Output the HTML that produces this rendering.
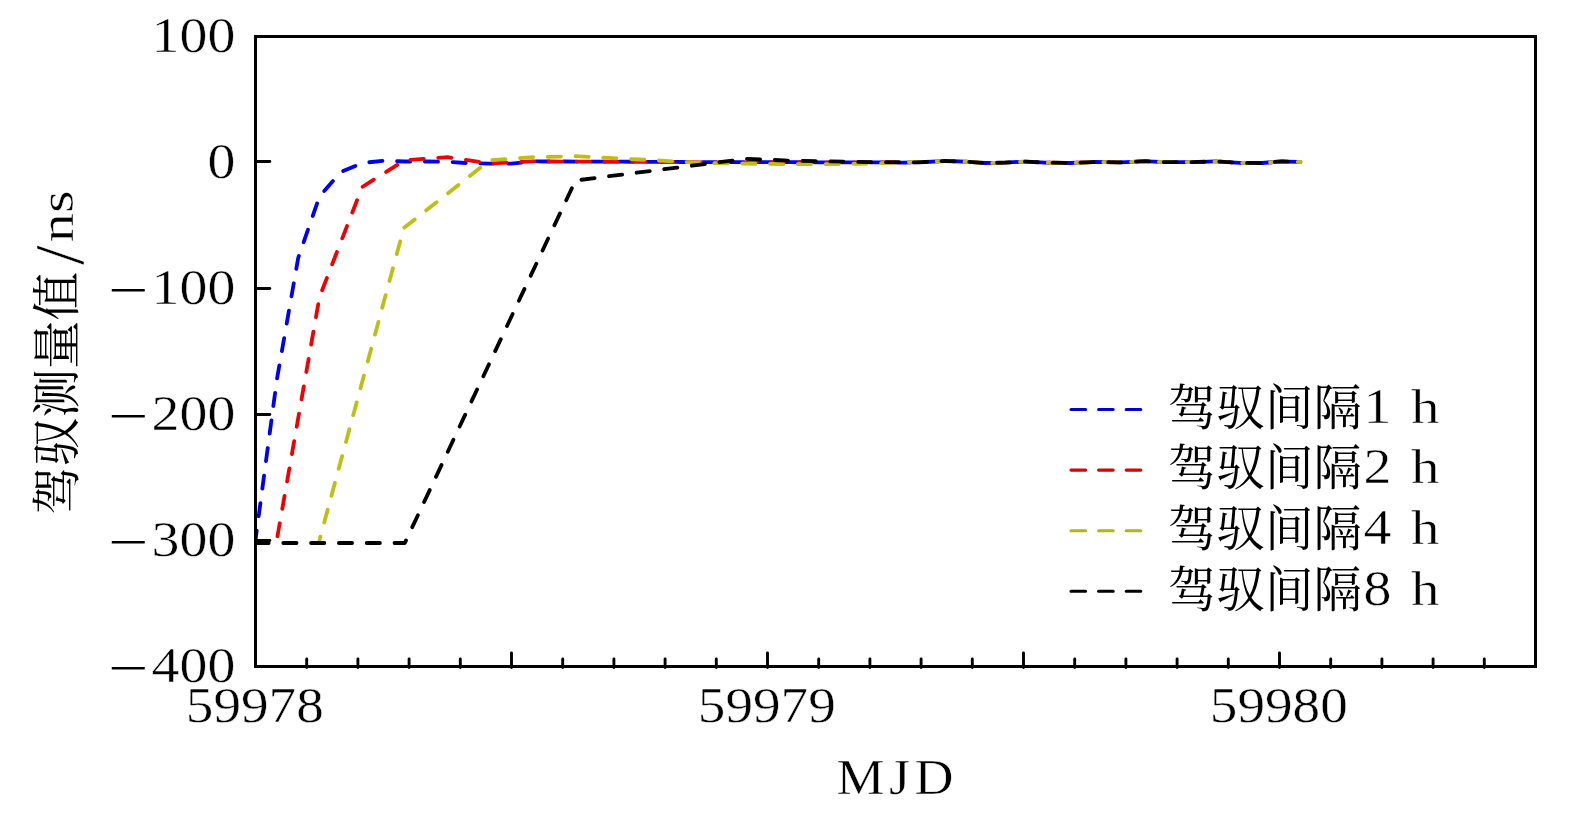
<!DOCTYPE html>
<html lang="zh"><head><meta charset="utf-8"><title>驾驭测量值</title>
<style>
html,body{margin:0;padding:0;background:#fff;}
body{width:1575px;height:817px;overflow:hidden;}
svg{display:block;}
text{font-family:"Liberation Serif","Noto Serif CJK SC",serif;fill:#000;}
.lat{stroke:#fff;stroke-width:0.45px;stroke-linejoin:round;}
.cjk{font-family:"Noto Serif CJK SC","Liberation Serif",serif;font-weight:400;}
.tk{stroke:#000;stroke-width:2.9;stroke-linecap:round;fill:none;}
.ln{fill:none;stroke-width:3.8;stroke-linecap:round;stroke-linejoin:round;stroke-dasharray:13.2 14.6;}
.lg{fill:none;stroke-width:3.1;stroke-linecap:round;stroke-dasharray:14.6 13;}
</style></head><body>
<svg width="1575" height="817" viewBox="0 0 1575 817">
<rect x="0" y="0" width="1575" height="817" fill="#fff"/>
<defs><clipPath id="ax"><rect x="255.5" y="36.5" width="1280.0" height="630.0"/></clipPath></defs>
<g clip-path="url(#ax)">
<path class="ln" stroke="#0000f0" stroke-dashoffset="3.8" d="M255.5 540.0 L276.8 380.0 L298.2 258.0 L319.5 196.5 L340.8 172.0 L362.2 163.0 L383.5 160.8 L404.8 161.5 L426.2 161.5 L447.5 161.7 L468.8 163.2 L490.2 163.6 L511.5 163.6 L532.8 161.4 L554.2 161.5 L596.8 161.6 L639.5 161.8 L682.2 162.0 L724.8 162.2 L760.0 162.2 L790.0 162.2 L830.0 162.4 L870.0 162.3 L905.0 162.6 L925.0 162.0 L945.0 161.0 L965.0 161.6 L985.0 163.0 L1005.0 162.6 L1025.0 161.6 L1045.0 162.6 L1070.0 163.0 L1095.0 162.0 L1120.0 162.4 L1145.0 161.2 L1165.0 162.2 L1190.0 162.2 L1215.0 161.4 L1240.0 162.8 L1262.0 163.0 L1282.0 161.4 L1300.5 162.0"/>
<path class="ln" stroke="#f00000" stroke-dashoffset="-3.8" d="M276.8 540.0 L319.5 297.0 L362.2 187.0 L404.8 160.2 L447.5 157.2 L490.2 163.4 L532.8 161.4 L575.5 161.6 L618.2 161.8 L660.8 162.0 L703.5 162.3 L746.2 162.3 L760.0 162.3 L790.0 162.2 L830.0 162.4 L870.0 162.3 L905.0 162.6 L925.0 162.0 L945.0 161.0 L965.0 161.6 L985.0 163.0 L1005.0 162.6 L1025.0 161.6 L1045.0 162.6 L1070.0 163.0 L1095.0 162.0 L1120.0 162.4 L1145.0 161.2 L1165.0 162.2 L1190.0 162.2 L1215.0 161.4 L1240.0 162.8 L1262.0 163.0 L1282.0 161.4 L1300.5 162.0"/>
<path class="ln" stroke="#bebe14" stroke-dashoffset="9.7" d="M319.5 540.0 L403.8 228.0 L489.6 160.4 L530.0 157.3 L575.5 156.2 L660.8 160.6 L700.0 163.0 L746.2 163.6 L788.8 164.2 L831.5 164.2 L874.2 163.4 L916.8 161.9 L925.0 162.0 L945.0 161.0 L965.0 161.6 L985.0 163.0 L1005.0 162.6 L1025.0 161.6 L1045.0 162.6 L1070.0 163.0 L1095.0 162.0 L1120.0 162.4 L1145.0 161.2 L1165.0 162.2 L1190.0 162.2 L1215.0 161.4 L1240.0 162.8 L1262.0 163.0 L1282.0 161.4 L1300.5 162.0"/>
<path class="ln" stroke="#000000" stroke-dashoffset="0.0" d="M255.5 543.0 L404.8 543.0 L575.5 180.5 L746.2 158.8 L788.8 160.6 L831.5 161.4 L874.2 162.1 L916.8 162.3 L925.0 162.0 L945.0 161.0 L965.0 161.6 L985.0 163.0 L1005.0 162.6 L1025.0 161.6 L1045.0 162.6 L1070.0 163.0 L1095.0 162.0 L1120.0 162.4 L1145.0 161.2 L1165.0 162.2 L1190.0 162.2 L1215.0 161.4 L1240.0 162.8 L1262.0 163.0 L1282.0 161.4 L1300.5 162.0"/>
</g>
<rect x="255.5" y="36.5" width="1280.0" height="630.0" fill="none" stroke="#000" stroke-width="3"/>
<line class="tk" x1="306.7" y1="659.0" x2="306.7" y2="667.5"/>
<line class="tk" x1="357.9" y1="659.0" x2="357.9" y2="667.5"/>
<line class="tk" x1="409.1" y1="659.0" x2="409.1" y2="667.5"/>
<line class="tk" x1="460.3" y1="659.0" x2="460.3" y2="667.5"/>
<line class="tk" x1="511.5" y1="653.0" x2="511.5" y2="667.5"/>
<line class="tk" x1="562.7" y1="659.0" x2="562.7" y2="667.5"/>
<line class="tk" x1="613.9" y1="659.0" x2="613.9" y2="667.5"/>
<line class="tk" x1="665.1" y1="659.0" x2="665.1" y2="667.5"/>
<line class="tk" x1="716.3" y1="659.0" x2="716.3" y2="667.5"/>
<line class="tk" x1="767.5" y1="653.0" x2="767.5" y2="667.5"/>
<line class="tk" x1="818.7" y1="659.0" x2="818.7" y2="667.5"/>
<line class="tk" x1="869.9" y1="659.0" x2="869.9" y2="667.5"/>
<line class="tk" x1="921.1" y1="659.0" x2="921.1" y2="667.5"/>
<line class="tk" x1="972.3" y1="659.0" x2="972.3" y2="667.5"/>
<line class="tk" x1="1023.5" y1="653.0" x2="1023.5" y2="667.5"/>
<line class="tk" x1="1074.7" y1="659.0" x2="1074.7" y2="667.5"/>
<line class="tk" x1="1125.9" y1="659.0" x2="1125.9" y2="667.5"/>
<line class="tk" x1="1177.1" y1="659.0" x2="1177.1" y2="667.5"/>
<line class="tk" x1="1228.3" y1="659.0" x2="1228.3" y2="667.5"/>
<line class="tk" x1="1279.5" y1="653.0" x2="1279.5" y2="667.5"/>
<line class="tk" x1="1330.7" y1="659.0" x2="1330.7" y2="667.5"/>
<line class="tk" x1="1381.9" y1="659.0" x2="1381.9" y2="667.5"/>
<line class="tk" x1="1433.1" y1="659.0" x2="1433.1" y2="667.5"/>
<line class="tk" x1="1484.3" y1="659.0" x2="1484.3" y2="667.5"/>
<line class="tk" x1="255.5" y1="161.5" x2="269.8" y2="161.5"/>
<line class="tk" x1="255.5" y1="288.5" x2="269.8" y2="288.5"/>
<line class="tk" x1="255.5" y1="414.5" x2="269.8" y2="414.5"/>
<line class="tk" x1="255.5" y1="540.5" x2="269.8" y2="540.5"/>
<text class="lat" x="151.6" y="52.0" font-size="51.0" textLength="83.7" lengthAdjust="spacingAndGlyphs">100</text>
<text class="lat" x="207.4" y="177.7" font-size="51.0" textLength="27.9" lengthAdjust="spacingAndGlyphs">0</text>
<text x="108.6" y="306.6" font-size="51.0" textLength="40" lengthAdjust="spacingAndGlyphs">−</text>
<text class="lat" x="151.6" y="304.0" font-size="51.0" textLength="83.7" lengthAdjust="spacingAndGlyphs">100</text>
<text x="108.6" y="432.6" font-size="51.0" textLength="40" lengthAdjust="spacingAndGlyphs">−</text>
<text class="lat" x="151.6" y="430.0" font-size="51.0" textLength="83.7" lengthAdjust="spacingAndGlyphs">200</text>
<text x="108.6" y="558.6" font-size="51.0" textLength="40" lengthAdjust="spacingAndGlyphs">−</text>
<text class="lat" x="151.6" y="556.0" font-size="51.0" textLength="83.7" lengthAdjust="spacingAndGlyphs">300</text>
<text x="108.6" y="684.6" font-size="51.0" textLength="40" lengthAdjust="spacingAndGlyphs">−</text>
<text class="lat" x="151.6" y="682.0" font-size="51.0" textLength="83.7" lengthAdjust="spacingAndGlyphs">400</text>
<text class="lat" x="185.8" y="721.6" font-size="51.0" textLength="138.0" lengthAdjust="spacingAndGlyphs">59978</text>
<text class="lat" x="697.8" y="721.6" font-size="51.0" textLength="138.0" lengthAdjust="spacingAndGlyphs">59979</text>
<text class="lat" x="1209.8" y="721.6" font-size="51.0" textLength="138.0" lengthAdjust="spacingAndGlyphs">59980</text>
<g transform="scale(1.08 1)"><text class="lat" x="774.54 823.24 846.76" y="794.3" font-size="50">MJD</text></g>
<g transform="translate(72.9 514.5) rotate(-90)">
<text class="cjk" x="0" y="1.3" font-size="48.5" textLength="242.5" lengthAdjust="spacing">驾驭测量值</text>
<text class="lat" x="249.5" y="10" font-size="69" textLength="19.6" lengthAdjust="spacingAndGlyphs">/</text>
<text class="lat" x="272.3" y="0" font-size="48" textLength="51.8" lengthAdjust="spacingAndGlyphs">ns</text>
</g>
<path class="lg" stroke="#0000cc" d="M1071.0 409.5 L1142.0 409.5"/>
<text class="cjk" x="1168" y="424.7" font-size="48.5" textLength="194" lengthAdjust="spacing">驾驭间隔</text>
<text class="lat" x="1363.5" y="422.7" font-size="51.0" textLength="27.9" lengthAdjust="spacingAndGlyphs">1</text>
<text class="lat" x="1411" y="422.7" font-size="49" textLength="28.5" lengthAdjust="spacingAndGlyphs">h</text>
<path class="lg" stroke="#dc0000" d="M1071.0 470.1 L1142.0 470.1"/>
<text class="cjk" x="1168" y="485.3" font-size="48.5" textLength="194" lengthAdjust="spacing">驾驭间隔</text>
<text class="lat" x="1363.5" y="483.3" font-size="51.0" textLength="27.9" lengthAdjust="spacingAndGlyphs">2</text>
<text class="lat" x="1411" y="483.3" font-size="49" textLength="28.5" lengthAdjust="spacingAndGlyphs">h</text>
<path class="lg" stroke="#b4b414" d="M1071.0 530.7 L1142.0 530.7"/>
<text class="cjk" x="1168" y="545.9" font-size="48.5" textLength="194" lengthAdjust="spacing">驾驭间隔</text>
<text class="lat" x="1363.5" y="543.9" font-size="51.0" textLength="27.9" lengthAdjust="spacingAndGlyphs">4</text>
<text class="lat" x="1411" y="543.9" font-size="49" textLength="28.5" lengthAdjust="spacingAndGlyphs">h</text>
<path class="lg" stroke="#000000" d="M1071.0 591.3 L1142.0 591.3"/>
<text class="cjk" x="1168" y="606.5" font-size="48.5" textLength="194" lengthAdjust="spacing">驾驭间隔</text>
<text class="lat" x="1363.5" y="604.5" font-size="51.0" textLength="27.9" lengthAdjust="spacingAndGlyphs">8</text>
<text class="lat" x="1411" y="604.5" font-size="49" textLength="28.5" lengthAdjust="spacingAndGlyphs">h</text>
</svg></body></html>
